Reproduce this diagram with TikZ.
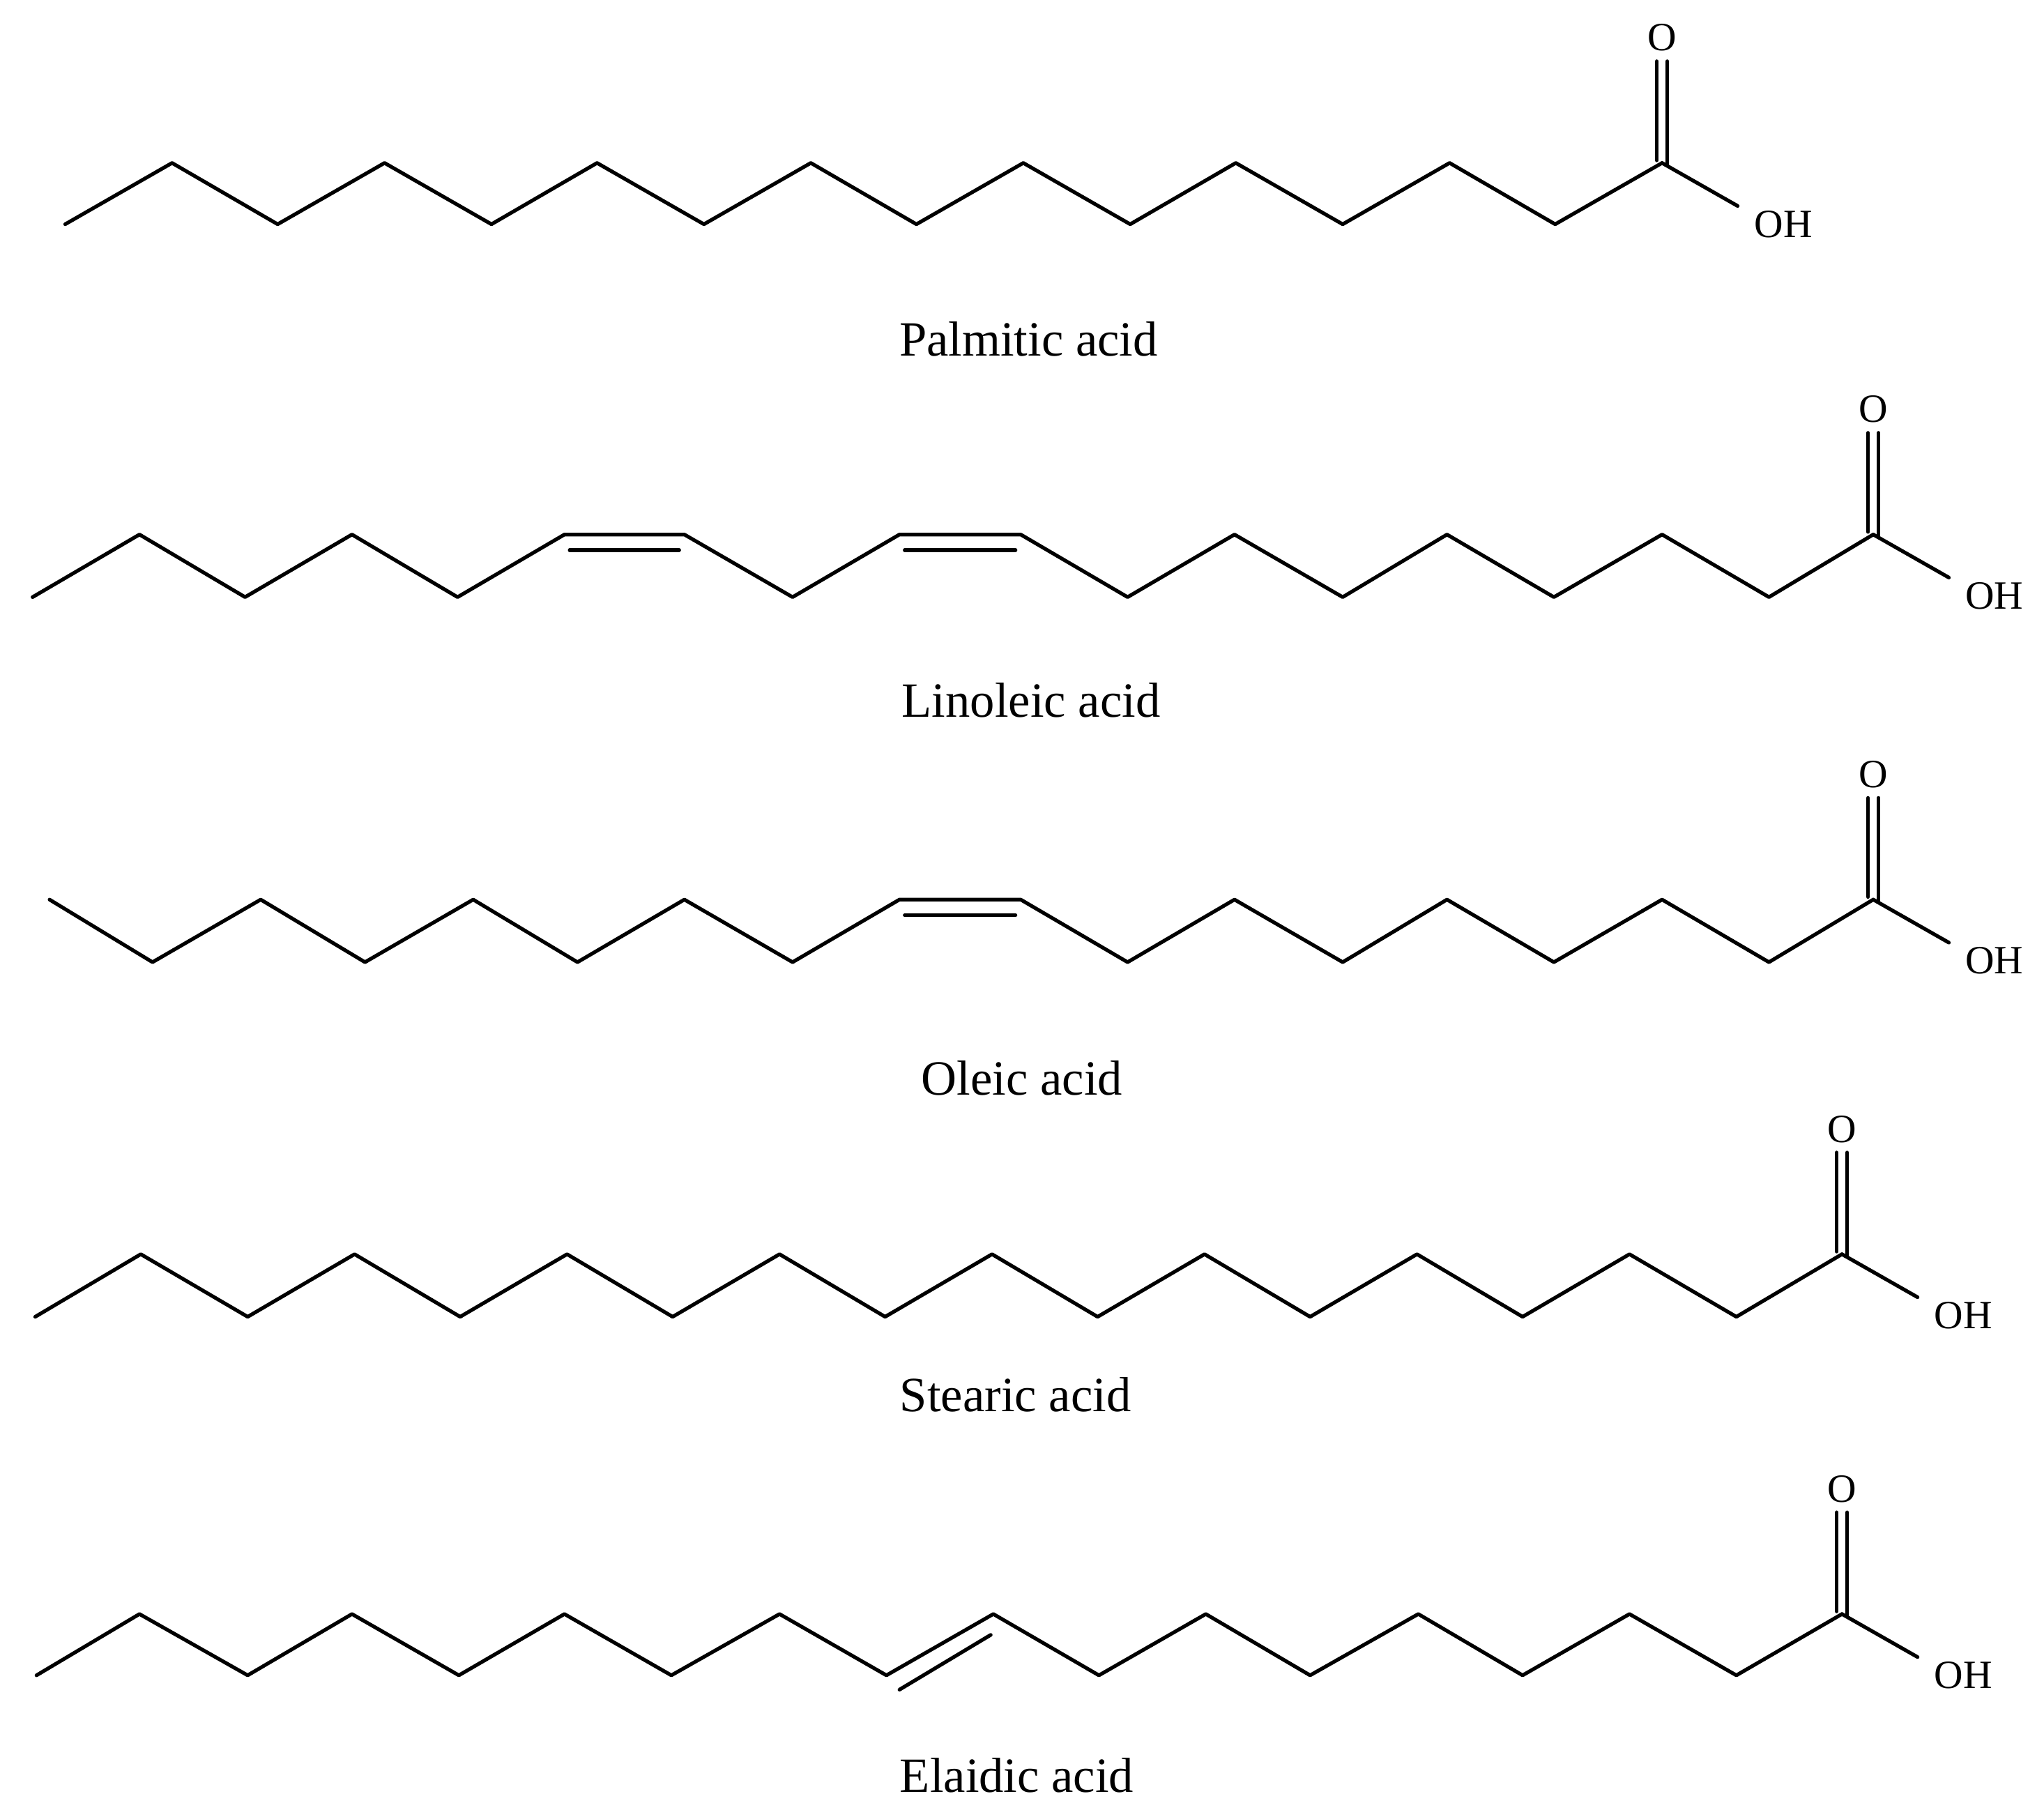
\documentclass[tikz,border=0pt]{standalone}
\usepackage{fontspec}
\setmainfont{Liberation Serif}
\newcommand\mycooh[2]{%
  \draw[bond] (#1-4,#2-2) -- (#1-4,#2-78);
  \draw[bond] (#1+4,#2+2) -- (#1+4,#2-78);
  \node[atom] at (#1,#2-96) {O};
  \draw[bond] (#1,#2) -- (#1+58,#2+33);
  \node[atom] at (#1+93,#2+47) {OH};
}
\begin{document}
\begin{tikzpicture}[x={(0.02cm,0)},y={(0,-0.02cm)},
  bond/.style={line width=1.6pt,line join=round,line cap=round},
  atom/.style={font=\fontsize{17.5}{18}\selectfont,inner sep=0pt},
  lbl/.style={font=\fontsize{21.5}{24}\selectfont,inner sep=0pt}]
\useasboundingbox (0,0) rectangle (1568,1388);
% Palmitic
\draw[bond] (50,172)--(132,125)--(213,172)--(295,125)--(377,172)--(458,125)--(540,172)--(622,125)--(703,172)--(785,125)--(867,172)--(948,125)--(1030,172)--(1112,125)--(1193,172)--(1275,125);
\mycooh{1275}{125}
\node[lbl] at (789,260) {Palmitic acid};
% Linoleic
\draw[bond] (25,458)--(107,410)--(188,458)--(270,410)--(351,458)--(433,410)--(525,410)--(608,458)--(690,410)--(783,410)--(865,458)--(947,410)--(1030,458)--(1110,410)--(1192,458)--(1275,410)--(1357,458)--(1437,410);
\draw[bond] (437,422)--(521,422);
\draw[bond] (694,422)--(779,422);
\mycooh{1437}{410}
\node[lbl] at (791,537) {Linoleic acid};
% Oleic
\draw[bond] (38,690)--(117,738)--(200,690)--(280,738)--(363,690)--(443,738)--(525,690)--(608,738)--(690,690)--(783,690)--(865,738)--(947,690)--(1030,738)--(1110,690)--(1192,738)--(1275,690)--(1357,738)--(1437,690);
\draw[bond] (694,702)--(779,702);
\mycooh{1437}{690}
\node[lbl] at (784,827) {Oleic acid};
% Stearic
\draw[bond] (27,1010)--(108,962)--(190,1010)--(272,962)--(353,1010)--(435,962)--(516,1010)--(598,962)--(679,1010)--(761,962)--(842,1010)--(924,962)--(1005,1010)--(1087,962)--(1168,1010)--(1250,962)--(1332,1010)--(1413,962);
\mycooh{1413}{962}
\node[lbl] at (779,1070) {Stearic acid};
% Elaidic
\draw[bond] (28,1285)--(107,1238)--(190,1285)--(270,1238)--(352,1285)--(433,1238)--(515,1285)--(598,1238)--(680,1285)--(762,1238)--(843,1285)--(925,1238)--(1005,1285)--(1088,1238)--(1168,1285)--(1250,1238)--(1332,1285)--(1413,1238);
\draw[bond] (690,1296)--(760,1254);
\mycooh{1413}{1238}
\node[lbl] at (780,1362) {Elaidic acid};
\end{tikzpicture}
\end{document}
